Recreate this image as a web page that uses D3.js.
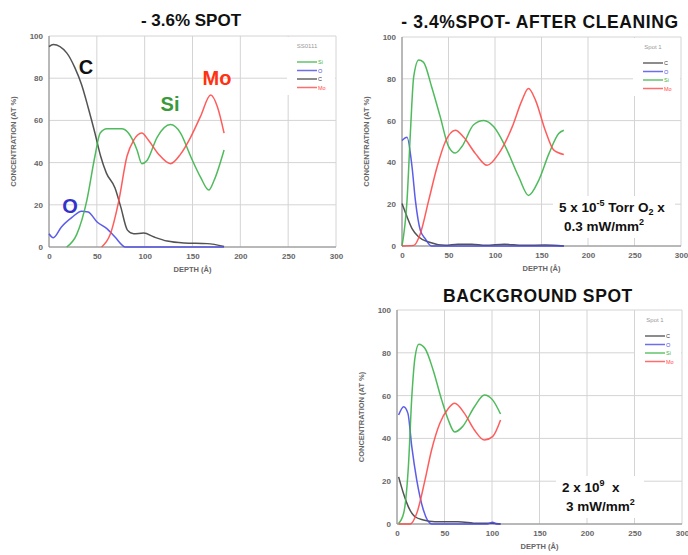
<!DOCTYPE html>
<html>
<head>
<meta charset="utf-8">
<script src="https://cdn.jsdelivr.net/npm/d3@7"></script>
<style>
  body { margin: 0; background: #fff; }
  svg { font-family: "Liberation Sans", Arial, sans-serif; }
</style>
</head>
<body>
<svg id="chart" width="688" height="555"></svg>
<script>
// depth (Å), concentration (at %)
const xTicks = [0, 50, 100, 150, 200, 250, 300];
const yTicks = [0, 20, 40, 60, 80, 100];

// - 3.6% SPOT
const s36_C  = [[0,95],[4.5,96],[18.5,92],[27,85],[34,77],[41,66],[48,54],[54,43],[60,35],[69,28],[75,19],[82,8],[88.5,6.3],[99,6.6],[110,4.7],[123.5,2.8],[141,1.9],[165.5,1.6],[183,0.3]];
const s36_O  = [[0,6.3],[4.5,4.4],[13,9.5],[24,14],[34,17],[41,16.6],[50,12],[60.5,8.7],[69,4.7],[80,0],[183,0]];
const s36_Si = [[18.5,0],[29,6],[39.5,22],[48,43],[53.5,54],[60.5,56],[76,56],[83,54],[92,46],[97,39.5],[102.5,41],[113,52],[127,58],[137.5,54],[148,43],[158.5,33],[167,27],[172.5,31.5],[183,46]];
const s36_Mo = [[55,0],[64,6],[73,22],[81.5,43],[88.5,50.6],[97,54],[104,50.6],[114.5,44],[127,39.5],[137.5,44],[148,52],[158.5,62],[169,72],[176,66.5],[183,54]];

// - 3.4%SPOT- AFTER CLEANING
const s34_C  = [[0,20.3],[5.4,14],[10.8,8.3],[18,4.3],[28.7,1.9],[46.7,0.3],[60,0.8],[75,0.8],[90,0.3],[110,0.8],[130,0.3],[154,0.5],[174,0]];
const s34_O  = [[0,50.5],[5.4,52],[10.8,37.8],[14.4,21.8],[19.7,7.5],[25,3.5],[31.6,0],[174,0]];
const s34_Si = [[0,0],[5.4,21.8],[9,54],[12.6,81],[18,89],[23,88],[32,76],[41,62],[50,47.7],[57.4,44.5],[64.6,47.7],[77,58],[88,60],[98.7,57],[111,47.7],[125.6,33],[136,24.2],[147,31.4],[158,44.2],[168.5,53.8],[174,55.4]];
const s34_Mo = [[0,0],[12.6,0.3],[19.7,5.9],[28.7,21.8],[37.7,37.8],[46.7,50],[57.4,55.4],[66.4,52],[79,44.2],[91.5,38.6],[104,44.2],[118.5,57],[129,69.7],[136,75.3],[143.6,69.7],[154,55.4],[163,46],[174,43.8]];

// BACKGROUND SPOT
const bg_C  = [[1.7,22],[7,14],[12,8],[19,3.4],[27.8,1.9],[40,1.1],[64,1.1],[85,0.3],[100.6,0.3],[109,0]];
const bg_O  = [[1.7,50.9],[7,54.8],[11.5,51.7],[15.6,36],[20.8,20.5],[27.8,6.5],[36.4,0],[95,0],[100.6,0.8],[105,0],[109,0]];
const bg_Si = [[1.7,0.3],[7,5],[12,27],[15.6,59.5],[19,78],[23,84],[29.5,82],[38,72],[47,58],[54,48.6],[60.7,43],[69,45.5],[81.5,54.8],[92,60.3],[100.6,58],[109,51.4]];
const bg_Mo = [[1.7,0],[13.9,0],[20.8,5],[29.5,20.6],[36.4,34.6],[45,47],[54,54],[60.7,56.4],[71,51.7],[81.5,43.9],[92,39.2],[100.6,40.8],[109,48.6]];

const colors = { C: "#404040", O: "#4a4ae8", Si: "#3cb44a", Mo: "#ff4a4a" };

const svg = d3.select("#chart");

function drawPanel(p) {
  const x = d3.scaleLinear().domain([0, 300]).range([p.x0, p.x1]);
  const y = d3.scaleLinear().domain([0, 100]).range([p.y0, p.y1]);
  const g = svg.append("g");

  // title
  g.append("text").attr("x", p.titleX).attr("y", p.titleY)
    .attr("text-anchor", "middle").attr("font-size", p.titleSize).attr("font-weight", "bold")
    .attr("letter-spacing", p.titleSpacing || 0)
    .attr("fill", "#111").text(p.title);

  // grid
  g.selectAll(".gx").data(xTicks).enter().append("line")
    .attr("x1", d => x(d)).attr("x2", d => x(d)).attr("y1", y(0)).attr("y2", y(100))
    .attr("stroke", "#d4d4d4").attr("stroke-width", 1);
  g.selectAll(".gy").data(yTicks).enter().append("line")
    .attr("x1", x(0)).attr("x2", x(300)).attr("y1", d => y(d)).attr("y2", d => y(d))
    .attr("stroke", "#d4d4d4").attr("stroke-width", 1);
  g.append("line").attr("x1", x(0)).attr("x2", x(0)).attr("y1", y(0)).attr("y2", y(100))
    .attr("stroke", "#888");
  g.append("line").attr("x1", x(0)).attr("x2", x(300)).attr("y1", y(0)).attr("y2", y(0))
    .attr("stroke", "#888");

  // axes
  const xa = g.append("g").attr("transform", `translate(0,${y(0)})`)
    .call(d3.axisBottom(x).tickValues(xTicks).tickSize(0).tickPadding(6));
  const ya = g.append("g").attr("transform", `translate(${x(0)},0)`)
    .call(d3.axisLeft(y).tickValues(yTicks).tickSize(0).tickPadding(6));
  [xa, ya].forEach(a => {
    a.select(".domain").remove();
    a.selectAll("text").attr("font-size", 8).attr("font-weight", "bold")
      .attr("fill", "#666").attr("font-family", "Liberation Sans, Arial");
  });

  g.append("text").attr("x", (x(0) + x(300)) / 2).attr("y", y(0) + 25)
    .attr("text-anchor", "middle").attr("font-size", 7.5).attr("font-weight", "bold")
    .attr("fill", "#666").text("DEPTH (Å)");
  g.append("text")
    .attr("transform", `translate(${x(0) - 33},${(y(0) + y(100)) / 2}) rotate(-90)`)
    .attr("text-anchor", "middle").attr("font-size", 7.5).attr("font-weight", "bold")
    .attr("fill", "#666").text("CONCENTRATION (AT %)");

  // legend box
  const lg = g.append("g");
  lg.append("rect").attr("x", p.legX - 10).attr("y", y(100) + 1)
    .attr("width", x(300) - p.legX + 9).attr("height", 58).attr("fill", "#fff");
  lg.append("text").attr("x", p.legX + 10).attr("y", y(100) + 12)
    .attr("text-anchor", "middle").attr("font-size", 6).attr("fill", "#999").text(p.legTitle);
  p.legOrder.forEach((k, i) => {
    const ly = y(100) + 26 + i * 8.5;
    lg.append("line").attr("x1", p.legX).attr("x2", p.legX + 20).attr("y1", ly).attr("y2", ly)
      .attr("stroke", colors[k]).attr("stroke-width", 1.5).attr("opacity", 0.8);
    lg.append("text").attr("x", p.legX + 21).attr("y", ly + 2)
      .attr("font-size", 5.5).attr("fill", colors[k]).text(k);
  });

  // curves
  const line = d3.line().x(d => x(d[0])).y(d => y(d[1])).curve(d3.curveMonotoneX);
  p.series.forEach(s => {
    g.append("path").datum(s.data).attr("d", line)
      .attr("fill", "none").attr("stroke", colors[s.key])
      .attr("stroke-width", 1.5).attr("opacity", 0.9);
  });

  // annotation box
  if (p.note) {
    g.append("rect").attr("x", p.note.x - 6).attr("y", p.note.y - 16)
      .attr("width", p.note.w).attr("height", 42).attr("fill", "#fff");
    p.note.lines.forEach((ln, i) => {
      const t = g.append("text").attr("x", p.note.x + (i ? p.note.indent : 0))
        .attr("y", p.note.y + i * 19).attr("font-size", 13.5).attr("font-weight", "bold")
        .attr("fill", "#111");
      ln.forEach(part => {
        const ts = t.append("tspan").text(part.t);
        if (part.sup) ts.attr("dy", -6).attr("font-size", 9);
        if (part.sub) ts.attr("dy", 3).attr("font-size", 9);
        if (part.back) ts.attr("dy", part.back);
      });
    });
  }
  return { x, y, g };
}

const p1 = drawPanel({
  title: "- 3.6% SPOT", titleX: 191, titleY: 26, titleSize: 17,
  x0: 49, x1: 336, y0: 247, y1: 36,
  legX: 297, legTitle: "SS0111", legOrder: ["Si", "O", "C", "Mo"],
  series: [
    { key: "C", data: s36_C }, { key: "O", data: s36_O },
    { key: "Si", data: s36_Si }, { key: "Mo", data: s36_Mo }
  ]
});
[["C", 86, 74, "#111"], ["Si", 170, 111, "#3a9a3a"], ["Mo", 217, 85, "#ff3311"], ["O", 70, 213, "#3333cc"]]
  .forEach(a => p1.g.append("text").attr("x", a[1]).attr("y", a[2]).attr("text-anchor", "middle")
    .attr("font-size", 20).attr("font-weight", "bold").attr("fill", a[3]).text(a[0]));

drawPanel({
  title: "- 3.4%SPOT- AFTER CLEANING", titleX: 540, titleY: 28, titleSize: 17.5, titleSpacing: 0.6,
  x0: 402, x1: 681, y0: 246, y1: 37,
  legX: 643, legTitle: "Spot 1", legOrder: ["C", "O", "Si", "Mo"],
  series: [
    { key: "C", data: s34_C }, { key: "O", data: s34_O },
    { key: "Si", data: s34_Si }, { key: "Mo", data: s34_Mo }
  ],
  note: { x: 559, y: 212, w: 122, indent: 5,
    lines: [[{ t: "5 x 10" }, { t: "-5", sup: true }, { t: " Torr O", back: 6 }, { t: "2", sub: true }, { t: " x", back: -3 }],
            [{ t: "0.3 mW/mm" }, { t: "2", sup: true }]] }
});

drawPanel({
  title: "BACKGROUND SPOT", titleX: 538, titleY: 302, titleSize: 17.5, titleSpacing: 0.6,
  x0: 397, x1: 682, y0: 524, y1: 310,
  legX: 645, legTitle: "Spot 1", legOrder: ["C", "O", "Si", "Mo"],
  series: [
    { key: "C", data: bg_C }, { key: "O", data: bg_O },
    { key: "Si", data: bg_Si }, { key: "Mo", data: bg_Mo }
  ],
  note: { x: 562, y: 492, w: 88, indent: 4,
    lines: [[{ t: "2 x 10" }, { t: "9", sup: true }, { t: "\u00a0\u00a0x", back: 6 }],
            [{ t: "3 mW/mm" }, { t: "2", sup: true }]] }
});
</script>
</body>
</html>
